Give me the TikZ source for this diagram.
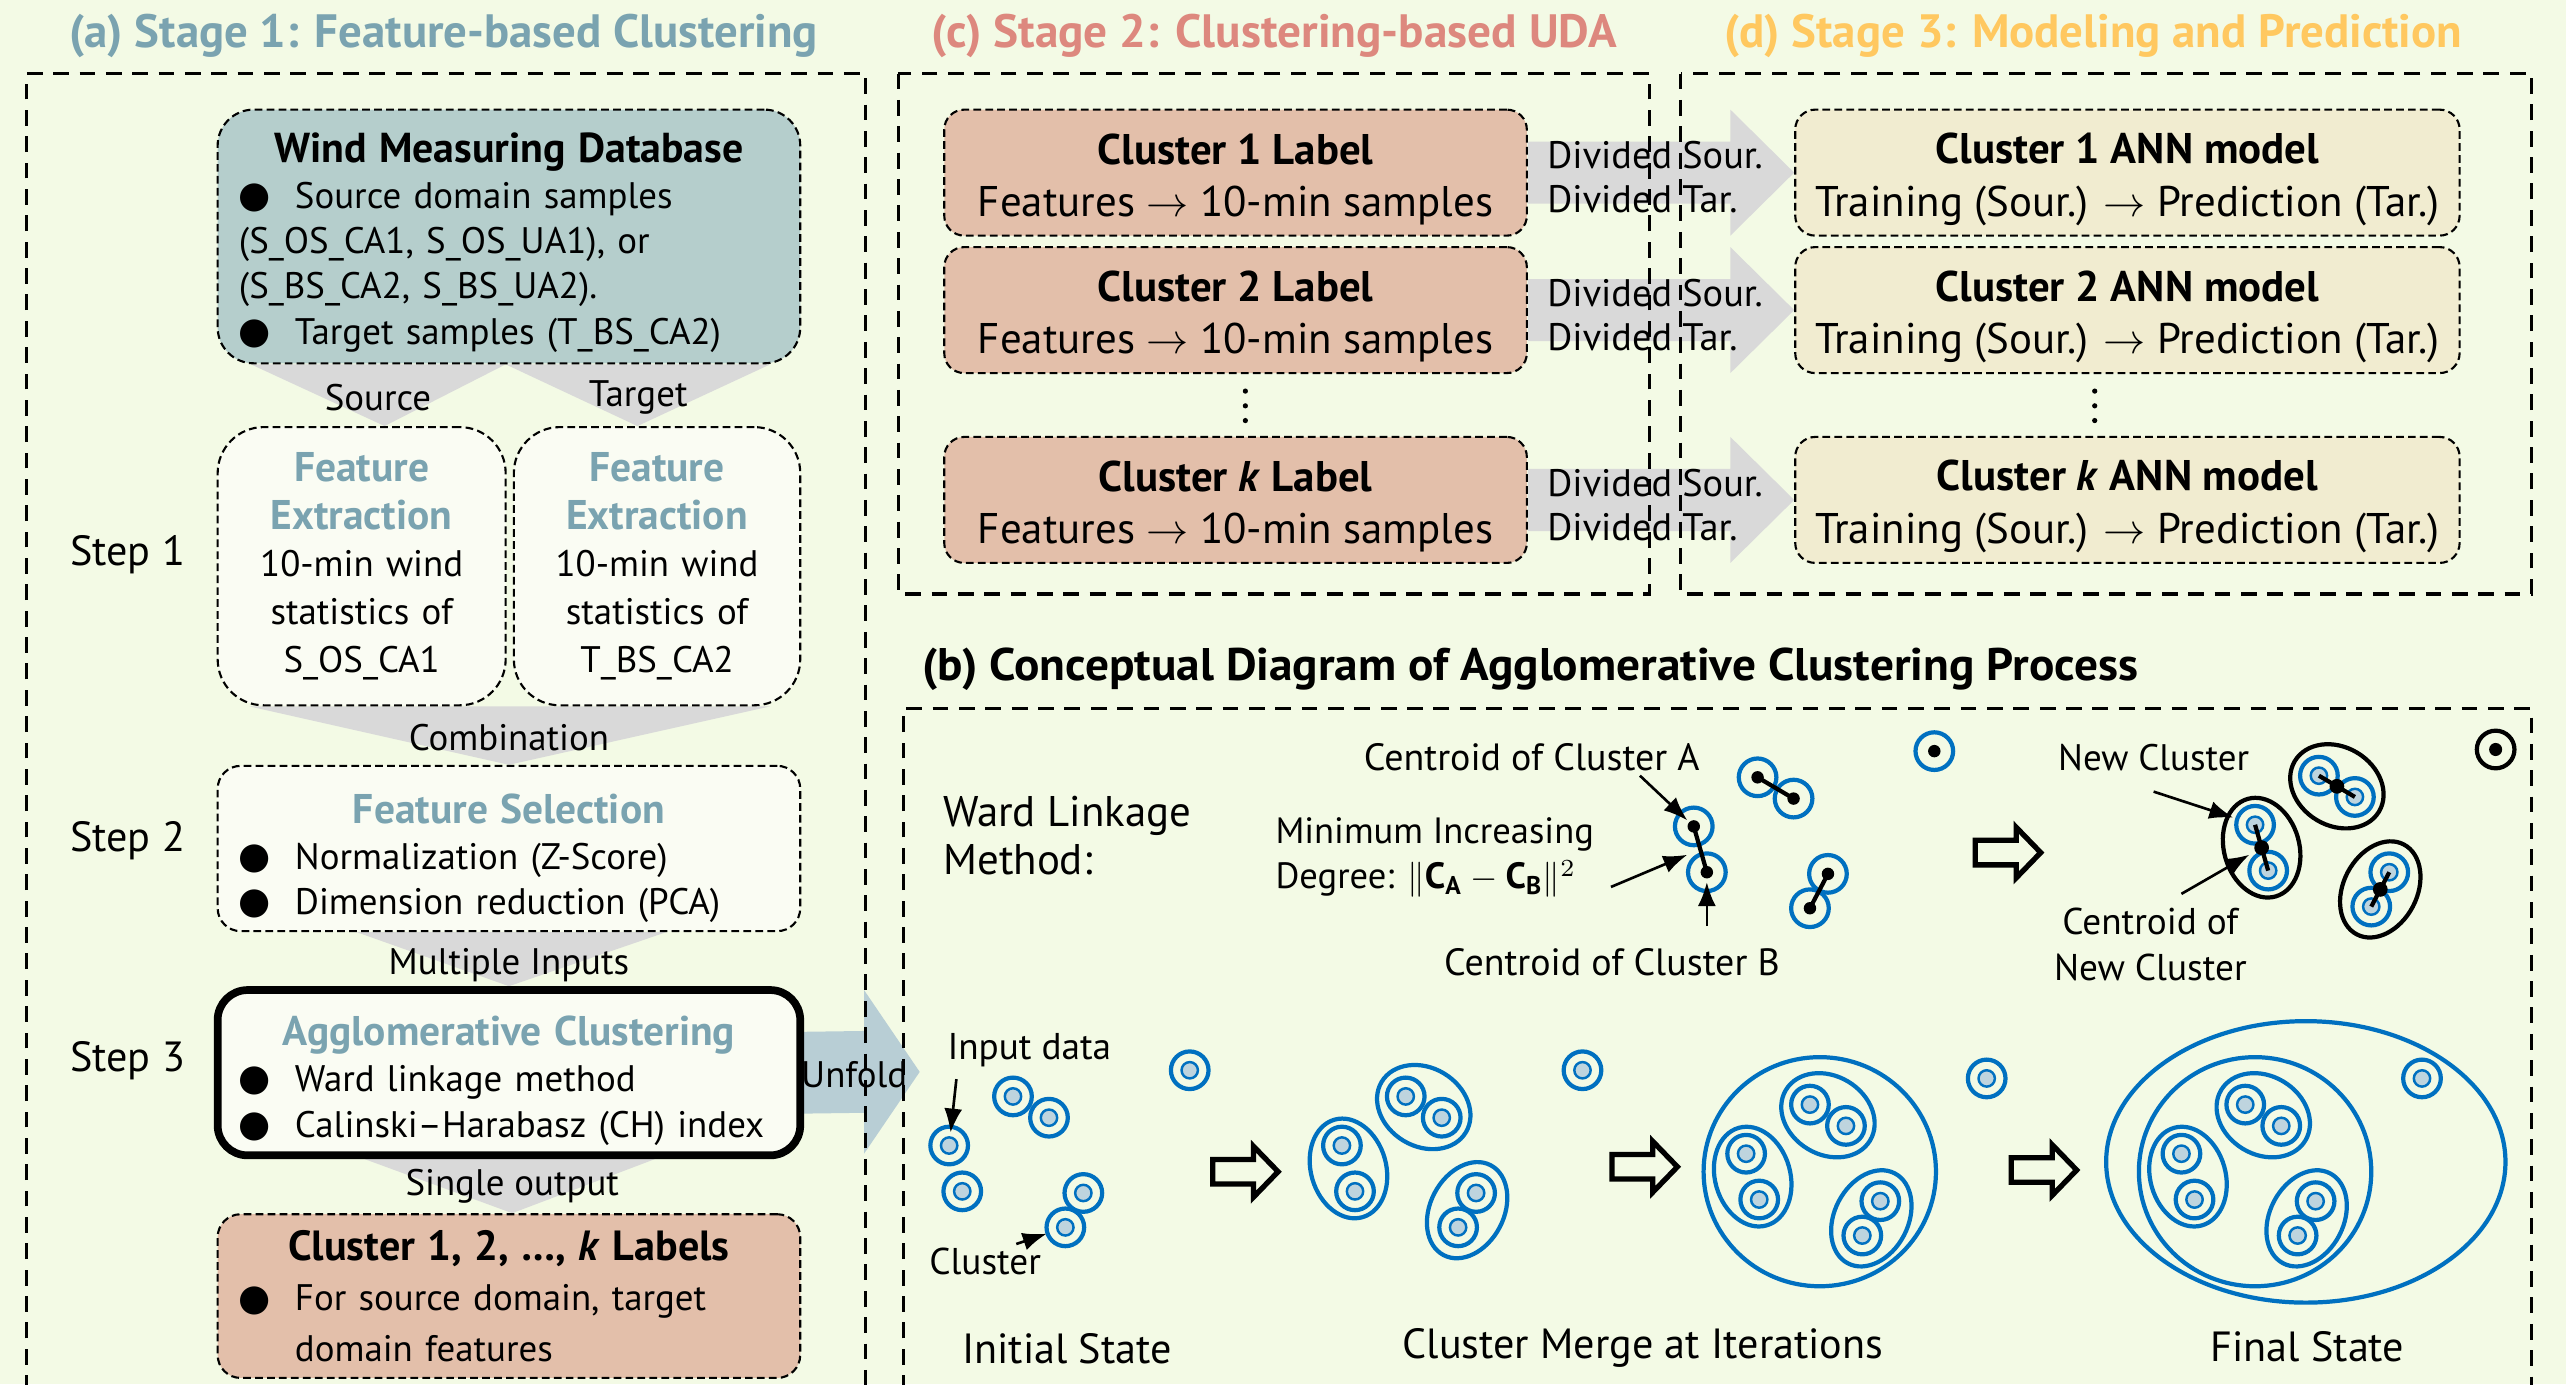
\documentclass[tikz,border=0pt]{standalone}
\usepackage{fontspec}
\setmainfont{PT Sans}
\newfontfamily\symfont{DejaVu Sans}
\usepackage{graphicx}
\usetikzlibrary{arrows.meta,calc,backgrounds}

\definecolor{bgcream}{RGB}{243,250,229}
\definecolor{dbteal}{RGB}{181,206,204}
\definecolor{salmonbox}{RGB}{227,191,170}
\definecolor{beigebox}{RGB}{241,236,208}
\definecolor{lightbox}{RGB}{250,252,243}
\definecolor{stageblue}{RGB}{122,163,176}
\definecolor{stagered}{RGB}{221,136,126}
\definecolor{stagegold}{RGB}{255,200,96}
\definecolor{funnelgray}{RGB}{217,217,217}
\definecolor{unfoldblue}{RGB}{184,206,213}
\definecolor{ringblue}{RGB}{0,112,192}
\definecolor{corefill}{RGB}{190,212,222}

% rows inside the stage-1 boxes
\newlength\rowwd
\setlength\rowwd{54mm}
\newcommand\lrow[1]{\makebox[\rowwd][l]{#1}}
\newcommand\bul{\makebox[5.6mm][l]{\raisebox{0.05ex}{\symfont\fontsize{10.5}{10.5}\selectfont ●}}}
\newcommand\headfont{\color{stageblue}\bfseries\fontsize{11.8}{13}\selectfont}
\newcommand\tallstrut[1]{\rule{0pt}{#1}}

% data points of the initial state
\newcommand\ptA{580,700}
\newcommand\ptB{619,670}
\newcommand\ptC{641,683}
\newcommand\ptD{727,654}
\newcommand\ptE{588,728}
\newcommand\ptF{662,729}
\newcommand\ptG{651,750}

\newcommand\datum[1]{\draw[ring] (#1) circle [radius=11.5]; \filldraw[core] (#1) circle [radius=5];}
\newcommand\wardpt[1]{\draw[ring] (#1) circle [radius=11.5]; \fill (#1) circle [radius=3.8];}
\newcommand\alldata{\datum{\ptA}\datum{\ptB}\datum{\ptC}\datum{\ptD}\datum{\ptE}\datum{\ptF}\datum{\ptG}}
\newcommand\pairs[1]{%
  \draw[grp,#1] ($(\ptA)!.5!(\ptE)$) circle [x radius=31, y radius=23, rotate=-74];
  \draw[grp,#1] ($(\ptB)!.5!(\ptC)$) circle [x radius=30, y radius=24, rotate=-31];
  \draw[grp,#1] ($(\ptF)!.5!(\ptG)$) circle [x radius=31, y radius=22.5, rotate=-117.6];}
\newcommand\hollow[1]{\draw[hollowarr] (#1) ++(0,-7.5) -- ++(25,0) -- ++(0,-8) -- ++(15,15.5) -- ++(-15,15.5) -- ++(0,-8) -- ++(-25,0) -- cycle;}

\begin{document}
\begin{tikzpicture}[x=0.16365mm, y=-0.16365mm,
    font=\fontsize{10.5}{12.8}\selectfont,
    box/.style={draw, line width=0.6pt, dash pattern=on 2.2pt off 1.2pt, rounded corners=2.3mm, align=center, inner sep=0pt},
    panel/.style={line width=0.9pt, dash pattern=on 4.5pt off 3pt},
    stagetitle/.style={font=\fontsize{13.3}{15}\selectfont\bfseries, inner sep=0pt},
    lbl/.style={inner sep=1pt, font=\fontsize{10.8}{13}\selectfont},
    statelbl/.style={inner sep=1pt, font=\fontsize{12}{14}\selectfont},
    ring/.style={draw=ringblue, line width=1.2pt},
    core/.style={fill=corefill, draw=ringblue, line width=0.7pt},
    grp/.style={line width=1.2pt},
    link/.style={line width=1.2pt},
    note/.style={-{Latex[length=2.4mm,width=1.8mm]}, line width=0.75pt},
    hollowarr/.style={draw, fill=bgcream, line width=1.5pt},
    funnel/.style={fill=funnelgray}
  ]
  \useasboundingbox (0,0) rectangle (1568,846);

  % panel frames
  \draw[panel] (16,850) -- (16,45) -- (529,45) -- (529,850);
  \draw[panel] (549,45) rectangle (1008,363);
  \draw[panel] (1027,45) rectangle (1547,363);
  \draw[panel] (552,850) -- (552,433) -- (1547,433) -- (1547,850);

  % titles
  \node[stagetitle, text=stageblue] (ttla) at (271,22) {\resizebox{213pt}{\height}{(a) Stage 1: Feature-based Clustering}};
  \node[stagetitle, text=stagered] (ttlc) at (778.5,22) {\resizebox{195pt}{\height}{(c) Stage 2: Clustering-based UDA}};
  \node[stagetitle, text=stagegold] (ttld) at (1279,22) {\resizebox{210pt}{\height}{(d) Stage 3: Modeling and Prediction}};
  \node[stagetitle, font=\fontsize{13}{15}\selectfont\bfseries, anchor=west] (ttlb) at (563,409) {\resizebox{346pt}{\height}{(b) Conceptual Diagram of Agglomerative Clustering Process}};

  % stage 1
  \node[box, fill=dbteal, rounded corners=3.6mm, minimum width=58.26mm, minimum height=25.37mm, text width=55mm, font=\fontsize{10.5}{12.9}\selectfont] (wmd) at (311,144.5)
    {{\tallstrut{12pt}\fontsize{11.9}{12.9}\selectfont\bfseries Wind Measuring Database}\\ \lrow{\bul Source domain samples}\\ \lrow{(S\_OS\_CA1, S\_OS\_UA1), or}\\ \lrow{(S\_BS\_CA2, S\_BS\_UA2).}\\ \lrow{\bul Target samples (T\_BS\_CA2)}};
  \node[box, fill=lightbox, rounded corners=4.6mm, minimum width=28.8mm, minimum height=27.82mm, text width=27mm, font=\fontsize{10.5}{13.6}\selectfont] (fe1) at (221,346)
    {{\headfont Feature}\\{\headfont Extraction}\\10-min wind\\statistics of\\S\_OS\_CA1};
  \node[box, fill=lightbox, rounded corners=4.6mm, minimum width=28.64mm, minimum height=27.82mm, text width=27mm, font=\fontsize{10.5}{13.6}\selectfont] (fe2) at (401.5,346)
    {{\headfont Feature}\\{\headfont Extraction}\\10-min wind\\statistics of\\T\_BS\_CA2};
  \node[box, fill=lightbox, minimum width=58.26mm, minimum height=16.53mm, text width=55mm, font=\fontsize{10.5}{13}\selectfont] (fs) at (311,518.5)
    {{\tallstrut{14pt}\headfont Feature Selection}\\ \lrow{\bul Normalization (Z-Score)}\\ \lrow{\bul Dimension reduction (PCA)}};
  \node[box, solid, line width=2.2pt, fill=lightbox, rounded corners=3mm, minimum width=58.26mm, minimum height=16.53mm, text width=55mm, font=\fontsize{10.5}{13}\selectfont] (ac) at (311,655.5)
    {{\tallstrut{13pt}\headfont Agglomerative Clustering}\\ \lrow{\bul Ward linkage method}\\ \lrow{\bul Calinski--Harabasz (CH) index}};
  \node[box, fill=salmonbox, minimum width=58.26mm, minimum height=16.37mm, text width=55mm, font=\fontsize{10.5}{14.4}\selectfont] (lab) at (311,792)
    {{\fontsize{12}{14.4}\selectfont\bfseries Cluster 1, 2, \dots, \textit{k} Labels}\\ \lrow{\bul\makebox[48.4mm][s]{For source domain, target}}\\ \lrow{\hspace{5.6mm}domain features}};

  \node[font=\fontsize{12}{14}\selectfont] (st1) at (78,339) {Step 1};
  \node[font=\fontsize{12}{14}\selectfont] (st2) at (78,514) {Step 2};
  \node[font=\fontsize{12}{14}\selectfont] (st3) at (78,648) {Step 3};

  \node[lbl, font=\fontsize{10.5}{13}\selectfont] (srcl) at (231,243) {Source};
  \node[lbl, font=\fontsize{10.5}{13}\selectfont] (tgtl) at (390,243) {Target};
  \node[lbl, font=\fontsize{10.5}{13}\selectfont] (combl) at (311,451) {Combination};
  \node[lbl, font=\fontsize{10.5}{13}\selectfont] (multl) at (311,590) {Multiple Inputs};
  \node[lbl, font=\fontsize{10.5}{13}\selectfont] (singl) at (313,725) {Single output};
  \coordinate (unfoldtip) at (562,655);
  \node[lbl, font=\fontsize{10.5}{13}\selectfont] (unfl) at (522,657) {Unfold};

  % stage 2
  \node[box, fill=salmonbox, rounded corners=2mm, minimum width=58.26mm, minimum height=12.6mm, font=\fontsize{12.2}{14.9}\selectfont] (cl1) at (755,105.5)
    {\tallstrut{12.5pt}\textbf{Cluster 1 Label}\\Features $\rightarrow$ 10-min samples};
  \node[box, fill=salmonbox, rounded corners=2mm, minimum width=58.26mm, minimum height=12.6mm, font=\fontsize{12.2}{14.9}\selectfont] (cl2) at (755,189.5)
    {\tallstrut{12.5pt}\textbf{Cluster 2 Label}\\Features $\rightarrow$ 10-min samples};
  \node[box, fill=salmonbox, rounded corners=2mm, minimum width=58.26mm, minimum height=12.6mm, font=\fontsize{12.2}{14.9}\selectfont] (clk) at (755,305.5)
    {\tallstrut{12.5pt}\textbf{Cluster \textit{k} Label}\\Features $\rightarrow$ 10-min samples};
  \fill (761,239) circle [radius=1.6] (761,248) circle [radius=1.6] (761,257) circle [radius=1.6];

  % stage 3
  \node[box, fill=beigebox, rounded corners=2mm, minimum width=66.44mm, minimum height=12.6mm, font=\fontsize{12.2}{14.9}\selectfont] (ann1) at (1300,105.5)
    {\tallstrut{12.5pt}\textbf{Cluster 1 ANN model}\\Training (Sour.) $\rightarrow$ Prediction (Tar.)};
  \node[box, fill=beigebox, rounded corners=2mm, minimum width=66.44mm, minimum height=12.6mm, font=\fontsize{12.2}{14.9}\selectfont] (ann2) at (1300,189.5)
    {\tallstrut{12.5pt}\textbf{Cluster 2 ANN model}\\Training (Sour.) $\rightarrow$ Prediction (Tar.)};
  \node[box, fill=beigebox, rounded corners=2mm, minimum width=66.44mm, minimum height=12.6mm, font=\fontsize{12.2}{14.9}\selectfont] (annk) at (1300,305.5)
    {\tallstrut{12.5pt}\textbf{Cluster \textit{k} ANN model}\\Training (Sour.) $\rightarrow$ Prediction (Tar.)};
  \fill (1280,239) circle [radius=1.6] (1280,248) circle [radius=1.6] (1280,257) circle [radius=1.6];

  \node[lbl, anchor=west, align=left, font=\fontsize{10.9}{12.5}\selectfont] (dv1) at (943,108.5) {Divided Sour.\\Divided Tar.};
  \node[lbl, anchor=west, align=left, font=\fontsize{10.9}{12.5}\selectfont] (dv2) at (943,192.5) {Divided Sour.\\Divided Tar.};
  \node[lbl, anchor=west, align=left, font=\fontsize{10.9}{12.5}\selectfont] (dvk) at (943,308.5) {Divided Sour.\\Divided Tar.};

  % (b) ward linkage example
  \node[anchor=west, align=left, inner sep=0pt, font=\fontsize{12.2}{13.5}\selectfont] (ward) at (576,510.5) {Ward Linkage\\Method:};
  \begin{scope}[shift={(455,-195)}]
    \wardpt{\ptA}\wardpt{\ptB}\wardpt{\ptC}\wardpt{\ptD}\wardpt{\ptE}\wardpt{\ptF}\wardpt{\ptG}
    \draw[link] (\ptA) -- (\ptE) (\ptB) -- (\ptC) (\ptF) -- (\ptG);
    \coordinate (ca) at (\ptA);
    \coordinate (cb) at (\ptE);
    \coordinate (cab) at ($(\ptA)!.5!(\ptE)$);
  \end{scope}
  \node[lbl] (calbl) at (936,463) {Centroid of Cluster A};
  \node[lbl, anchor=west, align=left, inner sep=0pt, font=\fontsize{10.4}{13}\selectfont] (deglbl) at (779,524)
    {Minimum Increasing\\Degree: $\|\mathbf{C}_{\mathbf{A}}-\mathbf{C}_{\mathbf{B}}\|^{2}$};
  \node[lbl] (cblbl) at (985,588) {Centroid of Cluster B};
  \draw[note, shorten >=2.5pt] ($(calbl.south east)+(-39,0)$) -- (ca);
  \draw[note, shorten >=4pt] ($(deglbl.east)+(10,18)$) -- (cab);
  \draw[note, shorten >=2.8pt] ($(cb)+(0,33)$) -- (cb);

  \hollow{1207,521}

  \begin{scope}[shift={(798,-196)}]
    \datum{\ptA}\datum{\ptB}\datum{\ptC}\datum{\ptE}\datum{\ptF}\datum{\ptG}
    \pairs{black}
    \draw[link] (\ptA) -- (\ptE) (\ptB) -- (\ptC) (\ptF) -- (\ptG);
    \fill ($(\ptA)!.5!(\ptE)$) circle [radius=4.5] ($(\ptB)!.5!(\ptC)$) circle [radius=4.5] ($(\ptF)!.5!(\ptG)$) circle [radius=4.5];
    \draw[line width=1.2pt] (\ptD) circle [radius=11.5];
    \fill (\ptD) circle [radius=4];
    \coordinate (na) at (\ptA);
    \coordinate (nab) at ($(\ptA)!.5!(\ptE)$);
  \end{scope}
  \node[lbl, font=\fontsize{10.5}{13}\selectfont] (nclbl) at (1316,463) {New Cluster};
  \node[lbl, align=center, font=\fontsize{10.6}{13}\selectfont] (cnlbl) at (1314,577) {Centroid of\\New Cluster};
  \draw[note, shorten >=6.5pt] ($(nclbl.south)+(0,10)$) -- (na);
  \draw[note, shorten >=4pt] ($(cnlbl.north)+(19,-6)$) -- (nab);

  % (b) merging sequence
  \begin{scope}
    \alldata
    \coordinate (p1) at (\ptA);
    \coordinate (p7) at (\ptG);
  \end{scope}
  \node[lbl, font=\fontsize{10.6}{13}\selectfont] (inlbl) at (629,641.6) {Input data};
  \node[lbl, font=\fontsize{10.6}{13}\selectfont] (cllbl) at (602,771) {Cluster};
  \draw[note, shorten >=3.7pt] ($(inlbl.south west)+(8,5)$) -- (p1);
  \draw[note, shorten >=5.6pt] ($(cllbl.north)+(19,0)$) -- (p7);

  \hollow{741,716}
  \begin{scope}[shift={(240,0)}]
    \alldata
    \pairs{ringblue}
  \end{scope}

  \hollow{985,713}
  \begin{scope}[shift={(487,5)}]
    \alldata
    \pairs{ringblue}
    \draw[grp, ringblue] (625,711) circle [x radius=71, y radius=70];
  \end{scope}

  \hollow{1229,715}
  \begin{scope}[shift={(753,5)}]
    \alldata
    \pairs{ringblue}
    \draw[grp, ringblue] (625,711) circle [x radius=71, y radius=70];
    \draw[grp, ringblue] (656,705) circle [x radius=122, y radius=86];
  \end{scope}

  \node[statelbl] (initlbl) at (652,824) {Initial State};
  \node[statelbl] (mergelbl) at (1004,824) {Cluster Merge at Iterations};
  \node[statelbl] (finallbl) at (1410,823) {Final State};

  % background, funnels and broad arrows
  \begin{scope}[on background layer]
    \fill[bgcream] (0,0) rectangle (1568,846);
    \fill[funnel] ($(wmd.south west)+(21,0)$) -- ($(wmd.south)+(-2,0)$) -- ($(fe1.north)+(14,0)$) -- cycle;
    \fill[funnel] ($(wmd.south)+(-2,0)$) -- ($(wmd.south east)+(-19,0)$) -- ($(fe2.north)+(-12,0)$) -- cycle;
    \fill[funnel] ($(fe1.south west)+(20,0)$) -- ($(fe2.south east)+(-19,0)$) -- (fs.north) -- cycle;
    \fill[funnel] ($(fs.south)+(-93,0)$) -- ($(fs.south)+(96,0)$) -- (ac.north) -- cycle;
    \fill[funnel] ($(ac.south)+(-88,0)$) -- ($(ac.south)+(89,0)$) -- ($(lab.north)+(2,0)$) -- cycle;
    \fill[unfoldblue] ($(ac.east)+(0,-25)$) -- ($(unfoldtip)+(-34,-25)$) -- ($(unfoldtip)+(-34,-50)$) -- (unfoldtip)
      -- ($(unfoldtip)+(-34,50)$) -- ($(unfoldtip)+(-34,25)$) -- ($(ac.east)+(0,25)$) -- cycle;
    \fill[funnel] ($(cl1.east)+(0,-19)$) -- ($(ann1.west)+(-39,-19)$) -- ($(ann1.west)+(-39,-38.5)$) -- (ann1.west)
      -- ($(ann1.west)+(-39,38.5)$) -- ($(ann1.west)+(-39,19)$) -- ($(cl1.east)+(0,19)$) -- cycle;
    \fill[funnel] ($(cl2.east)+(0,-19)$) -- ($(ann2.west)+(-39,-19)$) -- ($(ann2.west)+(-39,-38.5)$) -- (ann2.west)
      -- ($(ann2.west)+(-39,38.5)$) -- ($(ann2.west)+(-39,19)$) -- ($(cl2.east)+(0,19)$) -- cycle;
    \fill[funnel] ($(clk.east)+(0,-19)$) -- ($(annk.west)+(-39,-19)$) -- ($(annk.west)+(-39,-38.5)$) -- (annk.west)
      -- ($(annk.west)+(-39,38.5)$) -- ($(annk.west)+(-39,19)$) -- ($(clk.east)+(0,19)$) -- cycle;
  \end{scope}
\end{tikzpicture}
\end{document}
